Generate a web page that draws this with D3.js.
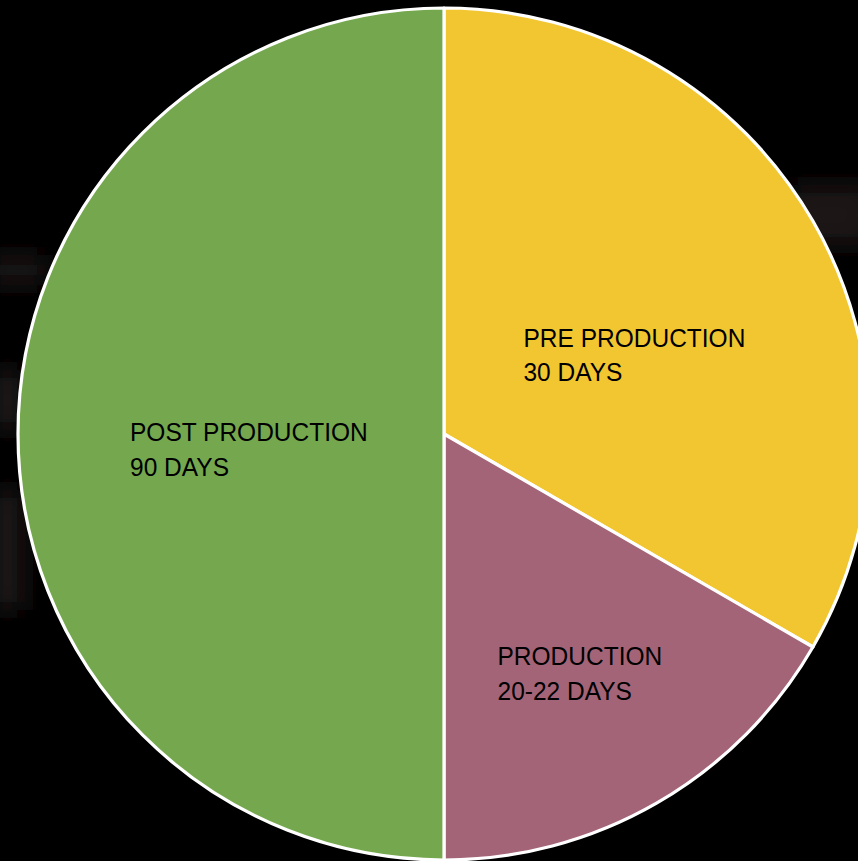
<!DOCTYPE html>
<html>
<head>
<meta charset="utf-8">
<script src="https://cdn.jsdelivr.net/npm/d3@7"></script>
<style>
  html, body { margin: 0; padding: 0; background: #000; }
  svg { display: block; }
</style>
</head>
<body>
<svg id="chart" width="858" height="861"></svg>
<script>
// Data
const categories = ["PRE PRODUCTION", "PRODUCTION", "POST PRODUCTION"];
const durationLabels = ["30 DAYS", "20-22 DAYS", "90 DAYS"];
const values = [30, 15, 45];
const colors = ["#F2C630", "#A46477", "#75A84E"];

const W = 858, H = 861;
const cx = 444, cy = 434, R = 426;

const svg = d3.select("#chart");
svg.append("rect").attr("width", W).attr("height", H).attr("fill", "#000");

// faint blurred background shapes
const defs = svg.append("defs");
defs.append("filter").attr("id", "blur").attr("x", "-50%").attr("y", "-50%").attr("width", "200%").attr("height", "200%")
  .append("feGaussianBlur").attr("stdDeviation", 12);
const bg = svg.append("g").attr("filter", "url(#blur)").attr("fill", "#1c1417");
bg.append("rect").attr("x", -10).attr("y", 255).attr("width", 55).attr("height", 30);
bg.append("rect").attr("x", -10).attr("y", 370).attr("width", 35).attr("height", 60);
bg.append("rect").attr("x", -10).attr("y", 490).attr("width", 35).attr("height", 120);
bg.append("rect").attr("x", 790).attr("y", 185).attr("width", 80).attr("height", 60);

const pie = d3.pie().sort(null).value(d => d.value);
const arc = d3.arc().innerRadius(0).outerRadius(R);
const data = categories.map((c, i) => ({ name: c, dur: durationLabels[i], value: values[i], color: colors[i] }));
const arcs = pie(data);

const g = svg.append("g").attr("transform", `translate(${cx},${cy})`);
g.selectAll("path.slice").data(arcs).join("path")
  .attr("class", "slice")
  .attr("d", arc)
  .attr("fill", d => d.data.color)
  .attr("stroke", "#fff")
  .attr("stroke-width", 3.2)
  .attr("stroke-linejoin", "round");

// label placement (style, not data): offset from centroid of a label arc
const labelOffsets = [[-105, 19], [-53, 47], [-101, 7]];
const labelArc = d3.arc().innerRadius(R / 2).outerRadius(R / 2);
const lab = g.selectAll("text.lab").data(arcs).join("text")
  .attr("class", "lab")
  .attr("font-family", "'Liberation Sans', Arial, sans-serif")
  .attr("font-size", 26.5)
  .attr("fill", "#000")
  .attr("transform", (d, i) => {
    const c = labelArc.centroid(d);
    return `translate(${c[0] + labelOffsets[i][0]},${c[1] + labelOffsets[i][1]}) scale(0.925,1)`;
  });
lab.append("tspan").attr("x", 0).attr("y", 0).text(d => d.data.name);
lab.append("tspan").attr("x", 0).attr("y", 35).text(d => d.data.dur);
</script>
</body>
</html>
